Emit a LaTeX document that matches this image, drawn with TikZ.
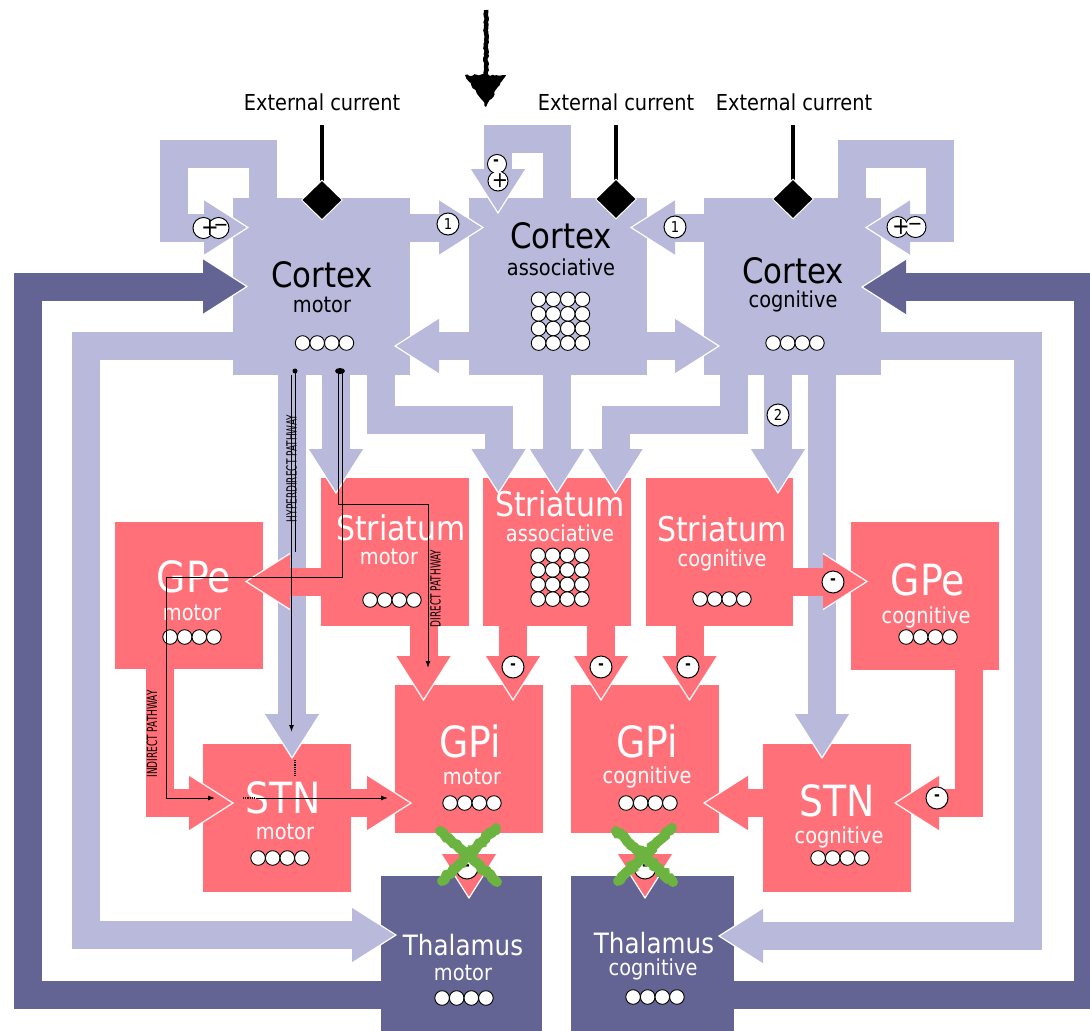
\documentclass[tikz,border=0pt]{standalone}
\usepackage{fontspec}
\setmainfont{DejaVu Sans}[FakeStretch=0.88]
\newfontfamily\pathfont{DejaVu Sans}[FakeStretch=0.64]
\usetikzlibrary{shapes.geometric,arrows.meta,decorations.pathmorphing}
\definecolor{lav}{HTML}{B8B9DB}
\definecolor{dpur}{HTML}{636494}
\definecolor{sal}{HTML}{FF7079}
\definecolor{grn}{HTML}{6DB33F}
\newcommand\fsz[1]{\fontsize{#1}{#1}\selectfont}
\newcommand\nrow[3]{\foreach \jj in {0,1,2,3}{\node[neuron] (#1\jj) at ({#2+(\jj-1.5)*14.6},#3) {};}}
\newcommand\ngrid[3]{\foreach \ii in {0,1,2,3}{\foreach \jj in {0,1,2,3}{\node[neuron] (#1\ii\jj) at ({#2+(\jj-1.5)*14.6},{#3+(\ii-1.5)*14.6}) {};}}}
\tikzset{pics/ahead/.style={code={\fill[#1] (-44,-28) -- (0,0) -- (-44,28) -- cycle; \draw[white,line width=1.2pt,line join=miter] (-44,-28) -- (0,0) -- (-44,28);}}}
\begin{document}
\begin{tikzpicture}[x=1pt,y=-1pt,
 band/.style={line width=28pt,line cap=butt,line join=miter},
 lavband/.style={band,draw=lav},
 darkband/.style={band,draw=dpur},
 redband/.style={band,draw=sal},
 box/.style={rectangle,anchor=north west,inner sep=0pt,outer sep=0pt,draw=none},
 lbox/.style={box,fill=lav},
 rbox/.style={box,fill=sal},
 dbox/.style={box,fill=dpur},
 txt/.style={anchor=base,inner sep=0pt,outer sep=0pt},
 tcx/.style={txt,font=\fsz{35}},
 tst/.style={txt,font=\fsz{34},text=white},
 tgp/.style={txt,font=\fsz{43},text=white},
 tth/.style={txt,font=\fsz{28},text=white},
 tsub/.style={txt,font=\fsz{22}},
 wsub/.style={tsub,text=white},
 neuron/.style={circle,draw=black,fill=white,line width=0.9pt,minimum size=14.6pt,inner sep=0pt},
 sgn/.style={circle,draw=black,fill=white,line width=1pt,minimum size=22pt,inner sep=0pt},
 numc/.style={sgn,font=\fsz{15}},
 msgn/.style={sgn,font=\fsz{16}\bfseries},
 pline/.style={draw=black,line width=1pt},
 ptip/.style={-{Latex[length=7pt,width=5pt]}},
 plab/.style={rotate=90,inner sep=0pt,font=\pathfont\fsz{14}},
 extdia/.style={diamond,fill=black,draw=white,line width=1pt,inner sep=0pt,minimum width=41pt,minimum height=40pt},
 gx/.style={draw=grn,line width=10pt,line cap=round,decorate,decoration={random steps,segment length=3pt,amplitude=1.3pt}}
]
\useasboundingbox (0,0) rectangle (1090,1031);
\fill[white] (0,0) rectangle (1090,1031);

% ---------- lavender bands (cortex outputs)
\draw[lavband] (263,199) -- (263,154) -- (174,154) -- (174,227.5) -- (205,227.5);
\draw[lavband] (409,227.5) -- (440,227.5);
\draw[lavband] (557,199) -- (557,139) -- (498,139) -- (498,170);
\draw[lavband] (705,227.5) -- (674,227.5);
\draw[lavband] (852,199) -- (852,154) -- (940,154) -- (940,227.5) -- (909,227.5);
\draw[lavband] (438,346) -- (676,346);
\draw[lavband] (234,346) -- (86,346) -- (86,935) -- (353,935);
\draw[lavband] (880,346) -- (1028,346) -- (1028,936) -- (762,936);
\draw[lavband] (292,374) -- (292,716);
\draw[lavband] (336,374) -- (336,451);
\draw[lavband] (381,374) -- (381,419.5) -- (498.5,419.5) -- (498.5,451);
\draw[lavband] (557,374) -- (557,451);
\draw[lavband] (734,374) -- (734,419.5) -- (615.5,419.5) -- (615.5,451);
\draw[lavband] (778,374) -- (778,451);
\draw[lavband] (822,374) -- (822,716);
% ---------- dark bands (thalamus to cortex)
\draw[darkband] (382,994.5) -- (27.5,994.5) -- (27.5,286.5) -- (205,286.5);
\draw[darkband] (733,994.5) -- (1088,994.5) -- (1088,287) -- (905,287);
% ---------- red bands
\draw[redband] (322,581.5) -- (290,581.5);
\draw[redband] (423.5,625) -- (423.5,657);
\draw[redband] (513,625) -- (513,657);
\draw[redband] (601,625) -- (601,657);
\draw[redband] (689.5,625) -- (689.5,657);
\draw[redband] (792,581.5) -- (824,581.5);
\draw[redband] (969,669) -- (969,803) -- (938,803);
\draw[redband] (764,803) -- (747,803);
\draw[redband] (159.5,668) -- (159.5,803) -- (190,803);
\draw[redband] (350,803) -- (368,803);

% ---------- boxes
\node[lbox,minimum width=177pt,minimum height=177pt] (cm) at (233,198) {};
\node[lbox,minimum width=178pt,minimum height=177pt] (ca) at (469,198) {};
\node[lbox,minimum width=177pt,minimum height=177pt] (cc) at (704,198) {};
\node[rbox,minimum width=148pt,minimum height=148pt] (sm) at (321,478) {};
\node[rbox,minimum width=148pt,minimum height=148pt] (sa) at (483,478) {};
\node[rbox,minimum width=147pt,minimum height=148pt] (sc) at (646,478) {};
\node[rbox,minimum width=148pt,minimum height=147pt] (gem) at (115,522) {};
\node[rbox,minimum width=148pt,minimum height=148pt] (gec) at (851,522) {};
\node[rbox,minimum width=148pt,minimum height=148pt] (gim) at (395,685) {};
\node[rbox,minimum width=148pt,minimum height=148pt] (gic) at (571,685) {};
\node[rbox,minimum width=148pt,minimum height=148pt] (stm) at (203,744) {};
\node[rbox,minimum width=148pt,minimum height=148pt] (stc) at (763,744) {};
\node[dbox,minimum width=161pt,minimum height=160pt] (thm) at (381,876) {};
\node[dbox,minimum width=163pt,minimum height=160pt] (thc) at (571,876) {};

% ---------- arrow heads
\pic at (248,227.5) {ahead=lav};
\pic at (483,227.5) {ahead=lav};
\pic[rotate=-90] at (498,213) {ahead=lav};
\pic[rotate=180] at (631,227.5) {ahead=lav};
\pic[rotate=180] at (866,227.5) {ahead=lav};
\pic[rotate=180] at (395,346) {ahead=lav};
\pic at (719,346) {ahead=lav};
\pic at (396,935) {ahead=lav};
\pic[rotate=180] at (719,936) {ahead=lav};
\pic[rotate=-90] at (292,758) {ahead=lav};
\pic[rotate=-90] at (336,493) {ahead=lav};
\pic[rotate=-90] at (498.5,493) {ahead=lav};
\pic[rotate=-90] at (557,493) {ahead=lav};
\pic[rotate=-90] at (615.5,493) {ahead=lav};
\pic[rotate=-90] at (778,493) {ahead=lav};
\pic[rotate=-90] at (822,758) {ahead=lav};
\pic at (247,286.5) {ahead=dpur};
\pic[rotate=180] at (862,287) {ahead=dpur};
\pic[rotate=180] at (246,581.5) {ahead=sal};
\pic[rotate=-90] at (423.5,700) {ahead=sal};
\pic[rotate=-90] at (513,700) {ahead=sal};
\pic[rotate=-90] at (601,700) {ahead=sal};
\pic[rotate=-90] at (689.5,700) {ahead=sal};
\pic at (867,581.5) {ahead=sal};
\pic[rotate=180] at (895,803) {ahead=sal};
\pic[rotate=180] at (704,803) {ahead=sal};
\pic at (233,803) {ahead=sal};
\pic at (411,803) {ahead=sal};
\pic[rotate=-90] at (469,898) {ahead=sal};
\pic[rotate=-90] at (645,898) {ahead=sal};

% ---------- box texts
\node[tcx] (cmT) at (322,287) {Cortex};
\node[tsub] (cmS) at (322,312) {motor};
\nrow{cmn}{324.5}{343}
\node[tcx] (caT) at (561,248) {Cortex};
\node[tsub] (caS) at (561,275) {associative};
\ngrid{can}{560.5}{321.2}
\node[tcx] (ccT) at (793,283) {Cortex};
\node[tsub] (ccS) at (793,307) {cognitive};
\nrow{ccn}{795}{343}

\node[tst] (smT) at (401,540) {Striatum};
\node[wsub] (smS) at (389,564) {motor};
\nrow{smn}{392}{600}
\node[tst] (saT) at (560,516) {Striatum};
\node[wsub] (saS) at (560,541) {associative};
\ngrid{san}{560}{577.2}
\node[tst] (scT) at (722,541) {Striatum};
\node[wsub] (scS) at (722,566) {cognitive};
\nrow{scn}{722}{599}

\node[tgp] (gemT) at (194,592) {GPe};
\node[wsub] (gemS) at (192,620) {motor};
\nrow{gemn}{192}{637}
\node[tgp] (gecT) at (928,595) {GPe};
\node[wsub] (gecS) at (926,623) {cognitive};
\nrow{gecn}{928}{637}

\node[tgp] (gimT) at (470,757) {GPi};
\node[wsub] (gimS) at (472,784) {motor};
\nrow{gimn}{472}{803}
\node[tgp] (gicT) at (647,757) {GPi};
\node[wsub] (gicS) at (647,783) {cognitive};
\nrow{gicn}{648}{803}

\node[tgp] (stmT) at (283,813) {STN};
\node[wsub] (stmS) at (285,839) {motor};
\nrow{stmn}{280}{858}
\node[tgp] (stcT) at (837,816) {STN};
\node[wsub] (stcS) at (839,843) {cognitive};
\nrow{stcn}{840}{858}

\node[tth] (thmT) at (463,955) {Thalamus};
\node[wsub] (thmS) at (463,980) {motor};
\nrow{thmn}{464}{998}
\node[tth] (thcT) at (654,953) {Thalamus};
\node[wsub] (thcS) at (653,975) {cognitive};
\nrow{thcn}{655}{997}

% ---------- pathway lines
\node[circle,fill=black,inner sep=0pt,minimum size=5pt] (hdot) at (295,371) {};
\node[ellipse,fill=black,inner sep=0pt,minimum width=10pt,minimum height=6pt] (ddot) at (340,371) {};
\coordinate (hypEnd) at (291.5,732);
\coordinate (dirEnd) at (428,668);
\coordinate (indEnd) at (215,798);
\coordinate (stnEnd) at (388,798);
\draw[pline] (hdot.center) -- (295,552);
\draw[pline,ptip] (291.5,375) -- (hypEnd);
\draw[pline,ptip] (338.5,371) -- (338.5,504) -- (428,504) -- (dirEnd);
\draw[pline,ptip] (342,371) -- (342,577) -- (166,577) -- (166,798) -- (indEnd);
\draw[black,line width=1.2pt,densely dotted] (243,798) -- (256,798);
\draw[black,line width=1.2pt,densely dotted] (295,760) -- (295,776);
\draw[pline,ptip] (256,798) -- (stnEnd);
\node[plab] (lhyp) at (291.5,468.5) {HYPERDIRECT PATHWAY};
\node[plab] (ldir) at (435.5,588.5) {DIRECT PATHWAY};
\node[plab] (lind) at (152,734) {INDIRECT PATHWAY};

% ---------- small labels on arrows
\node[numc] (one1) at (448,224) {1};
\node[numc] (one2) at (675,227) {1};
\node[numc] (two) at (778,415) {2};
\node[msgn] (m1) at (513,667) {-};
\node[msgn] (m2) at (601,667) {-};
\node[msgn] (m3) at (688,667) {-};
\node[msgn] (m4) at (833,582) {-};
\node[msgn] (m5) at (937,798) {-};
\node[msgn] (m6) at (467,868) {-};
\node[msgn] (m7) at (645,868) {-};

% self-loop +/- pairs
\node[sgn,minimum size=21pt] (pmA) at (203.5,228) {};
\node[sgn,minimum size=21pt] (pmB) at (218.5,228) {};
\fill[white] (pmA.center) circle[radius=9.6pt] (pmB.center) circle[radius=9.6pt];
\node[inner sep=0pt,font=\fsz{24}] (pmP) at (210,228) {+};
\node[inner sep=0pt,font=\fsz{20}] (pmM) at (221,228) {−};

\node[sgn,minimum size=21pt] (pcA) at (897.5,227) {};
\node[sgn,minimum size=21pt] (pcB) at (915.5,227) {};
\fill[white] (pcA.center) circle[radius=9.6pt] (pcB.center) circle[radius=9.6pt];
\node[inner sep=0pt,font=\fsz{24}] (pcP) at (901,227) {+};
\node[inner sep=0pt,font=\fsz{20}] (pcM) at (915,227) {−};

\node[sgn,minimum size=19pt] (paA) at (497,164) {};
\node[sgn,minimum size=20pt] (paB) at (498,181) {};
\fill[white] (paA.center) circle[radius=8.6pt] (paB.center) circle[radius=9.1pt];
\node[inner sep=0pt,font=\fsz{16}\bfseries] (paM) at (496,163) {-};
\node[inner sep=0pt,font=\fsz{22}] (paP) at (500,181) {+};

% ---------- external currents
\node[txt,font=\fsz{22}] (ecm) at (322,110) {External current};
\node[txt,font=\fsz{22}] (eca) at (616,110) {External current};
\node[txt,font=\fsz{22}] (ecc) at (794,110) {External current};
\coordinate (ecmP) at (322,125); \coordinate (ecmD) at (322,200);
\coordinate (ecaP) at (616,125); \coordinate (ecaD) at (616,199);
\coordinate (eccP) at (793,125); \coordinate (eccD) at (793,199);
\draw[line width=4.5pt] (ecmP) -- (ecmD);
\draw[line width=4.5pt] (ecaP) -- (ecaD);
\draw[line width=4.5pt] (eccP) -- (eccD);
\node[extdia] (dm) at (ecmD) {};
\node[extdia] (da) at (ecaD) {};
\node[extdia] (dc) at (eccD) {};

% ---------- hand drawn input arrow
\pgfmathsetseed{7}
\coordinate (hs) at (486,10);
\coordinate (he) at (486,80);
\draw[line width=4.5pt,decorate,decoration={random steps,segment length=2pt,amplitude=0.7pt}] (hs) -- (he);
\fill[black,decorate,decoration={random steps,segment length=2.5pt,amplitude=1pt}] (465,75) -- (506,75) -- (486,107) -- cycle;

% ---------- green crosses
\draw[gx] (440,831) -- (497,882);
\draw[gx] (496,828) -- (442,881);
\draw[gx] (616,831) -- (673,882);
\draw[gx] (672,828) -- (618,881);
\end{tikzpicture}
\end{document}
